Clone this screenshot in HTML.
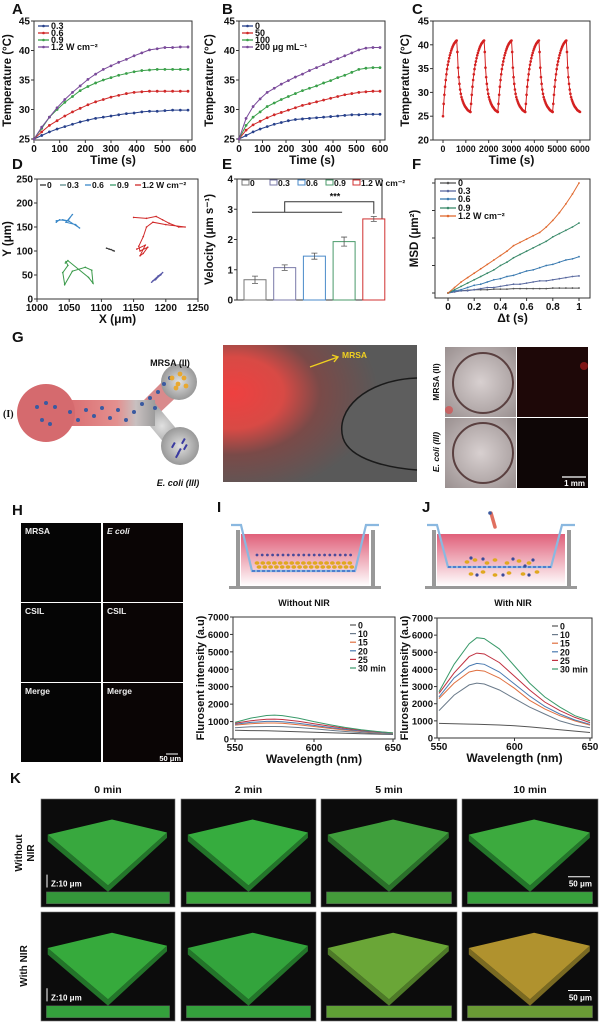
<!DOCTYPE html>
<html><head><meta charset="utf-8">
<style>
html,body{margin:0;padding:0;background:#fff;}
svg{display:block;font-family:"Liberation Sans",Arial,sans-serif;}
text{font-weight:bold;}
</style></head>
<body>
<svg id="fig" width="607" height="1026" viewBox="0 0 607 1026" xmlns="http://www.w3.org/2000/svg">
<defs>
<linearGradient id="chanGrad" x1="0" x2="1" y1="0" y2="0"><stop offset="0" stop-color="#d9686c"/><stop offset="0.6" stop-color="#e3908f"/><stop offset="0.8" stop-color="#c8c0c0"/><stop offset="1" stop-color="#9c9c9c"/></linearGradient>
<radialGradient id="armGrad" cx="0.5" cy="0.5" r="0.6"><stop offset="0" stop-color="#e0e0e0"/><stop offset="1" stop-color="#8a8a8a"/></radialGradient>
<radialGradient id="redGlow" cx="0.05" cy="0.35" r="0.75"><stop offset="0" stop-color="#ee4040"/><stop offset="0.35" stop-color="#d84a45"/><stop offset="0.6" stop-color="#7a4a48"/><stop offset="1" stop-color="#595959"/></radialGradient>
<linearGradient id="pinkLiq" x1="0" x2="0" y1="0" y2="1"><stop offset="0" stop-color="#e0607a"/><stop offset="1" stop-color="#fff"/></linearGradient>
<radialGradient id="ringBg" cx="0.5" cy="0.5" r="0.7"><stop offset="0" stop-color="#d8d0d0"/><stop offset="1" stop-color="#9a9090"/></radialGradient>
</defs>
<g id="root"></g>
</svg>
<script>
// ---------- data ----------
const timeA = [0,30,60,90,120,150,180,210,240,270,300,330,360,390,420,450,480,510,540,570,600];
const seriesA_03 = [25,25.6,26.2,26.7,27.1,27.5,27.9,28.2,28.5,28.7,28.9,29.1,29.3,29.4,29.6,29.7,29.7,29.8,29.9,29.9,29.9];
const seriesA_06 = [25,26.2,27.3,28.1,28.9,29.6,30.2,30.8,31.3,31.7,32.1,32.4,32.7,32.9,33.0,33.1,33.1,33.1,33.1,33.1,33.1];
const seriesA_09 = [25,26.8,28.7,30.0,31.2,32.2,33.2,33.9,34.5,35.0,35.4,35.8,36.1,36.4,36.6,36.7,36.8,36.8,36.8,36.8,36.8];
const seriesA_12 = [25,27.0,28.7,30.3,31.7,32.9,34.0,35.1,36.0,36.8,37.4,38.0,38.5,39.1,39.6,40.1,40.3,40.5,40.5,40.6,40.6];
const seriesB_0 = [25,25.6,26.2,26.7,27.1,27.5,27.8,28.1,28.3,28.4,28.5,28.6,28.7,28.8,28.9,29.0,29.1,29.1,29.2,29.2,29.2];
const seriesB_50 = [25,26.5,27.4,28.0,28.6,29.1,29.5,29.9,30.3,30.7,31.0,31.3,31.6,31.9,32.2,32.5,32.7,32.9,33.0,33.1,33.1];
const seriesB_100 = [25,27.3,28.7,29.6,30.5,31.1,31.7,32.2,32.7,33.2,33.6,34.0,34.5,34.9,35.4,35.8,36.3,36.8,37.0,37.1,37.1];
const seriesB_200 = [25,28.5,30.5,31.8,32.9,33.6,34.3,34.9,35.5,36.0,36.6,37.1,37.6,38.1,38.6,39.1,39.6,40.1,40.4,40.5,40.5];
const cycleStarts = [0,1200,2400,3600,4800];
const cycleHeat = [25.9,27.6,29.5,31.2,32.6,33.8,34.9,35.8,36.5,37.2,37.8,38.3,38.8,39.2,39.6,39.9,40.2,40.4,40.6,40.8,40.9];
const cycleCool = [38.5,35.2,33.2,31.8,30.6,29.7,29.0,28.5,28.1,27.7,27.4,27.1,26.9,26.7,26.5,26.3,26.2,26.1,26.0,25.9];
const firstStart = [25,27.6];
const trajX_0 = [1108,1112,1115,1118,1120];
const trajY_0 = [106,104,103,101,100];
const trajX_03 = [1178,1185,1192,1195,1188,1180,1184,1193];
const trajY_03 = [35,42,50,55,48,38,40,52];
const trajX_06 = [1030,1040,1048,1055,1045,1060,1066,1050,1035,1030];
const trajY_06 = [163,165,163,176,160,155,148,162,165,160];
const trajX_09 = [1045,1048,1040,1043,1055,1075,1085,1087,1080,1048,1044];
const trajY_09 = [78,70,55,30,58,66,60,33,45,80,75];
const trajX_12 = [1150,1170,1185,1195,1205,1220,1230,1200,1180,1170,1165,1158,1160,1172,1165,1160,1168,1155];
const trajY_12 = [170,168,172,165,158,150,150,155,160,150,130,110,100,108,95,90,112,104];
const velCats = ["0","0.3","0.6","0.9","1.2 W cm⁻²"];
const velValues = [0.67,1.07,1.45,1.93,2.68];
const velErrors = [0.12,0.09,0.1,0.15,0.08];
const dtValues = [0,0.05,0.1,0.15,0.2,0.25,0.3,0.35,0.4,0.45,0.5,0.55,0.6,0.65,0.7,0.75,0.8,0.85,0.9,0.95,1.0];
const msd_0 = [0,1,2,2.5,3,3,3,3.5,3.5,3.5,4,4,4,4,4,4,4.5,4.5,4.5,4.5,4.5];
const msd_03 = [0,1,2,2,3,4,5,5,6,7,8,8,9,10,11,11,12,13,14,15,15.5];
const msd_06 = [0,2,3,5,7,8,10,12,13,15,16,18,20,21,23,25,26,28,30,31,33];
const msd_09 = [0,3,6,9,12,15,18,21,25,28,32,35,38,41,44,47,51,54,57,60,63.6];
const msd_12 = [0,5,10,14,18,22,26,30,34,38,43,46,49,52,55,60,66,73,81,90,100];
const wavelengths = [550,560,570,575,580,590,600,610,620,630,640,650];
const specI_0 = [500,480,470,460,450,420,390,360,330,300,280,260];
const specI_10 = [650,700,720,720,710,660,590,500,430,370,320,280];
const specI_15 = [800,880,920,920,900,820,720,610,510,430,370,320];
const specI_20 = [850,950,1010,1010,990,900,780,660,550,460,390,330];
const specI_25 = [900,1050,1130,1140,1120,1020,880,740,610,500,420,350];
const specI_30 = [950,1200,1350,1370,1340,1200,1000,820,660,530,430,350];
const specJ_0 = [850,830,810,800,790,760,720,650,570,480,400,320];
const specJ_10 = [1600,2500,3100,3200,3150,2800,2300,1800,1400,1000,750,600];
const specJ_15 = [2300,3200,3850,3950,3900,3500,2900,2200,1700,1300,1000,750];
const specJ_20 = [2400,3500,4200,4350,4300,3850,3150,2450,1850,1400,1050,800];
const specJ_25 = [2600,3800,4750,4950,4900,4400,3600,2800,2100,1600,1200,900];
const specJ_30 = [2700,4300,5500,5850,5800,5200,4200,3200,2400,1800,1300,1000];
const specLabels = ["0","10","15","20","25","30 min"];

// ---------- helpers ----------
const NS = "http://www.w3.org/2000/svg";
const root = document.getElementById("root");
function nm(el, name){
  
  
}
function mk(tag, attrs, parent){
  const e = document.createElementNS(NS, tag);
  for (const k in attrs) e.setAttribute(k, attrs[k]);
  (parent || root).appendChild(e);
  return e;
}
function txt(x, y, s, size, opts, parent){
  const o = Object.assign({x:x, y:y, "font-size":size, fill:"#111"}, opts || {});
  const e = mk("text", o, parent);
  e.textContent = s;
  return e;
}
function lin(d0, d1, p0, p1){ return v => p0 + (v - d0) / (d1 - d0) * (p1 - p0); }
function axes(name, box, xs, ys, xticks, yticks, xlab, ylab, opts){
  opts = opts || {};
  const g = mk("g", {});
  nm(g, name + "-axes");
  const frame = mk("rect", {x:box.l, y:box.t, width:box.r-box.l, height:box.b-box.t, fill:"none", stroke:"#333", "stroke-width":1}, g);
  nm(frame, name + "-frame");
  xticks.forEach(v => {
    const x = xs(v);
    const t = mk("line", {x1:x, x2:x, y1:box.b, y2:box.b+3, stroke:"#333"}, g);
    nm(t, name + "-x-tick");
    const l = txt(x, box.b + 12, String(v), opts.xfs || 10, {"text-anchor":"middle"}, g);
    nm(l, name + "-x-tick-label");
  });
  yticks.forEach(v => {
    const y = ys(v);
    const t = mk("line", {x1:box.l-3, x2:box.l, y1:y, y2:y, stroke:"#333"}, g);
    nm(t, name + "-y-tick");
    if (!opts.noYLabels){
      const l = txt(box.l - 4, y + 3.5, String(v), opts.yfs || 10, {"text-anchor":"end"}, g);
      nm(l, name + "-y-tick-label");
    }
  });
  const xl = txt((box.l + box.r) / 2, box.b + 24, xlab, 12, {"text-anchor":"middle"}, g);
  nm(xl, name + "-x-axis-title");
  const yx = opts.ylx || (box.l - 22);
  const yl = txt(0, 0, ylab, opts.ytfs || 11.5, {"text-anchor":"middle", transform:"translate(" + yx + "," + ((box.t + box.b) / 2) + ") rotate(-90)"}, g);
  nm(yl, name + "-y-axis-title");
  return g;
}
function series(name, xsArr, ysArr, xs, ys, color, marker, width){
  const g = mk("g", {});
  nm(g, name);
  const pts = xsArr.map((v, i) => xs(v).toFixed(1) + "," + ys(ysArr[i]).toFixed(1)).join(" ");
  const pl = mk("polyline", {points:pts, fill:"none", stroke:color, "stroke-width":width || 1}, g);
  nm(pl, name + "-line");
  if (marker){
    xsArr.forEach((v, i) => {
      const c = mk("circle", {cx:xs(v), cy:ys(ysArr[i]), r:marker, fill:color}, g);
      nm(c, name + "-point");
    });
  }
  return g;
}
function panelLabel(s, x, y){
  const e = txt(x, y, s, 15, {});
  nm(e, "panel-label-" + s.toLowerCase());
}
function legendLine(name, x, y, label, color, fs, len){
  const l = mk("line", {x1:x, x2:x + (len || 11), y1:y, y2:y, stroke:color, "stroke-width":1.3});
  nm(l, name + "-swatch");
  const c = mk("circle", {cx:x + (len || 11)/2, cy:y, r:1.3, fill:color});
  nm(c, name + "-swatch-marker");
  const t = txt(x + (len || 11) + 2, y + 3.2, label, fs || 9, {});
  nm(t, name + "-label");
}

// ---------- Panel A ----------
panelLabel("A", 12, 14);
{
  const box = {l:34, t:21, r:192, b:140};
  const xs = lin(0, 600, 34, 188), ys = lin(25, 45, 139, 21);
  axes("chart-a", box, xs, ys, [0,100,200,300,400,500,600], [25,30,35,40,45], "Time (s)", "Temperature (°C)", {ylx:11});
  series("series-a-0.3", timeA, seriesA_03, xs, ys, "#27408b", 1.4);
  series("series-a-0.6", timeA, seriesA_06, xs, ys, "#d02828", 1.4);
  series("series-a-0.9", timeA, seriesA_09, xs, ys, "#3aa04a", 1.4);
  series("series-a-1.2", timeA, seriesA_12, xs, ys, "#7a4a9a", 1.4);
  legendLine("legend-a-0.3", 38, 26, "0.3", "#27408b");
  legendLine("legend-a-0.6", 38, 33, "0.6", "#d02828");
  legendLine("legend-a-0.9", 38, 40, "0.9", "#3aa04a");
  legendLine("legend-a-1.2", 38, 47, "1.2 W cm⁻²", "#7a4a9a");
}
// ---------- Panel B ----------
panelLabel("B", 222, 14);
{
  const box = {l:239, t:21, r:385, b:140};
  const xs = lin(0, 600, 239, 380), ys = lin(25, 45, 139, 21);
  axes("chart-b", box, xs, ys, [0,100,200,300,400,500,600], [25,30,35,40,45], "Time (s)", "Temperature (°C)", {ylx:213});
  series("series-b-0", timeA, seriesB_0, xs, ys, "#27408b", 1.4);
  series("series-b-50", timeA, seriesB_50, xs, ys, "#d02828", 1.4);
  series("series-b-100", timeA, seriesB_100, xs, ys, "#3aa04a", 1.4);
  series("series-b-200", timeA, seriesB_200, xs, ys, "#7a4a9a", 1.4);
  legendLine("legend-b-0", 242, 26, "0", "#27408b");
  legendLine("legend-b-50", 242, 33, "50", "#d02828");
  legendLine("legend-b-100", 242, 40, "100", "#3aa04a");
  legendLine("legend-b-200", 242, 47, "200 μg mL⁻¹", "#7a4a9a");
}
// ---------- Panel C ----------
panelLabel("C", 412, 14);
{
  const box = {l:433, t:21, r:590, b:140};
  const xs = lin(0, 6000, 443, 580), ys = lin(20, 45, 140, 21);
  axes("chart-c", box, xs, ys, [0,1000,2000,3000,4000,5000,6000], [20,25,30,35,40,45], "Time (s)", "Temperature (°C)", {ylx:409, xfs:8.8});
  cycleStarts.forEach((s, ci) => {
    const tx = [], ty = [];
    cycleHeat.forEach((v, i) => { tx.push(s + i * 30); ty.push(ci === 0 && i < 2 ? firstStart[i] : v); });
    cycleCool.forEach((v, i) => { tx.push(s + 630 + i * 30); ty.push(v); });
    series("series-c-cycle-" + (ci + 1), tx, ty, xs, ys, "#d42020", 1.3);
  });
}
// ---------- Panel D ----------
panelLabel("D", 12, 169);
{
  const box = {l:37, t:179, r:198, b:299};
  const xs = lin(1000, 1250, 37, 198), ys = lin(0, 250, 299, 179);
  axes("chart-d", box, xs, ys, [1000,1050,1100,1150,1200,1250], [0,50,100,150,200,250], "X  (μm)", "Y  (μm)", {ylx:11});
  series("track-0", trajX_0, trajY_0, xs, ys, "#333", 0.8);
  series("track-0.3", trajX_03, trajY_03, xs, ys, "#5a5aa8", 0.8);
  series("track-0.6", trajX_06, trajY_06, xs, ys, "#3a88c8", 0.8);
  series("track-0.9", trajX_09, trajY_09, xs, ys, "#3a9a4a", 0.8);
  series("track-1.2", trajX_12, trajY_12, xs, ys, "#d02828", 0.8);
  const lg = [["0","#333",40],["0.3","#5a8a8a",60],["0.6","#3a88c8",85],["0.9","#3a9a6a",110],["1.2 W cm⁻²","#d02828",135]];
  lg.forEach(e => {
    const l = mk("line", {x1:e[2], x2:e[2]+6, y1:185, y2:185, stroke:e[1], "stroke-width":1.3});
    nm(l, "legend-d-swatch");
    const t = txt(e[2]+7, 188, e[0], 8.5, {});
    nm(t, "legend-d-label");
  });
}
// ---------- Panel E ----------
panelLabel("E", 222, 169);
{
  const box = {l:237, t:179, r:382, b:300};
  const ys = lin(0, 4, 300, 179);
  const cx = i => 255 + i * 29.7;
  axes("chart-e", box, v => 0, ys, [], [0,1,2,3,4], "", "Velocity  (μm s⁻¹)", {ylx:213});
  const cols = ["#777","#7a7aa8","#4a8ac8","#4a9a6a","#d03030"];
  velValues.forEach((v, i) => {
    const r = mk("rect", {x:cx(i)-11, y:ys(v), width:22, height:ys(0)-ys(v), fill:"#fff", stroke:cols[i], "stroke-width":1});
    nm(r, "bar-" + velCats[i].split(" ")[0]);
    const e = mk("path", {d:"M"+cx(i)+","+ys(v+velErrors[i])+"V"+ys(v-velErrors[i])+"M"+(cx(i)-3)+","+ys(v+velErrors[i])+"h6M"+(cx(i)-3)+","+ys(v-velErrors[i])+"h6", stroke:"#555", "stroke-width":0.8, fill:"none"});
    nm(e, "error-bar-" + velCats[i].split(" ")[0]);
  });
  const br = mk("path", {d:"M"+(cx(0)-3)+","+ys(2.9)+"H"+(cx(3)-2)+"M"+(cx(1))+","+ys(2.9)+"V"+ys(3.25)+"H"+cx(4)+"V"+ys(2.85), fill:"none", stroke:"#333", "stroke-width":1});
  nm(br, "significance-bracket");
  const st = txt(335, ys(3.33), "***", 9, {"text-anchor":"middle"});
  nm(st, "significance-stars");
  const lx = [242,270,298,326,353];
  velCats.forEach((c, i) => {
    const r = mk("rect", {x:lx[i], y:180, width:7, height:5, fill:"#fff", stroke:cols[i]});
    nm(r, "legend-e-swatch");
    const t = txt(lx[i]+8, 186, c, 8.5, {});
    nm(t, "legend-e-label");
  });
}
// ---------- Panel F ----------
panelLabel("F", 412, 169);
{
  const box = {l:435, t:179, r:590, b:298};
  const xs = lin(0, 1, 448, 579), ys = lin(0, 100, 293, 183);
  axes("chart-f", box, xs, ys, [0,0.2,0.4,0.6,0.8,"1.0"].map(Number), [0,25,50,75,100], "Δt (s)", "MSD  (μm²)", {noYLabels:true, ylx:418});
  series("msd-0", dtValues, msd_0, xs, ys, "#555", 0.9);
  series("msd-0.3", dtValues, msd_03, xs, ys, "#5a6aa0", 0.9);
  series("msd-0.6", dtValues, msd_06, xs, ys, "#3a7ab0", 0.9);
  series("msd-0.9", dtValues, msd_09, xs, ys, "#3a8a6a", 0.9);
  series("msd-1.2", dtValues, msd_12, xs, ys, "#e06a30", 0.9);
  legendLine("legend-f-0", 440, 183, "0", "#555", 9, 16);
  legendLine("legend-f-0.3", 440, 191, "0.3", "#5a6aa0", 9, 16);
  legendLine("legend-f-0.6", 440, 199, "0.6", "#3a7ab0", 9, 16);
  legendLine("legend-f-0.9", 440, 208, "0.9", "#3a8a6a", 9, 16);
  legendLine("legend-f-1.2", 440, 216, "1.2 W cm⁻²", "#e06a30", 9, 16);
}
// ---------- Panel G ----------
panelLabel("G", 12, 342);
{
  const g = mk("g", {}); nm(g, "microfluidic-schematic");
  const a1 = mk("path", {d:"M138,406 L172,372 L186,388 L152,420 Z", fill:"#d98a8c"}, g); nm(a1, "channel-arm-upper");
  const a2 = mk("path", {d:"M140,414 L170,450 L184,438 L154,402 Z", fill:"url(#armGrad)"}, g); nm(a2, "channel-arm-lower");
  const c1 = mk("circle", {cx:179, cy:382, r:18, fill:"url(#armGrad)"}, g); nm(c1, "mrsa-chamber");
  const c2 = mk("circle", {cx:180, cy:446, r:19, fill:"url(#armGrad)"}, g); nm(c2, "ecoli-chamber");
  const bar = mk("rect", {x:60, y:400, width:95, height:26, fill:"url(#chanGrad)"}, g); nm(bar, "channel-main");
  const c0 = mk("circle", {cx:46, cy:413, r:29, fill:"#d56a6e"}, g); nm(c0, "inlet-chamber");
  [[37,407],[46,403],[55,407],[42,420],[50,424],[70,412],[78,420],[86,410],[94,416],[102,408],[110,418],[118,410],[126,420],[134,412],[142,404],[150,398],[158,392],[164,384],[170,378],[155,408]].forEach(p => {
    const d = mk("circle", {cx:p[0], cy:p[1], r:2, fill:"#3a5aa0"}, g); nm(d, "nanoparticle");
  });
  [[172,378],[178,384],[184,378],[176,388],[186,386],[180,374]].forEach(p => {
    const d = mk("circle", {cx:p[0], cy:p[1], r:2.4, fill:"#e8a830"}, g); nm(d, "mrsa-cell");
  });
  [[174,442],[180,448],[186,444],[178,452],[184,438]].forEach(p => {
    const d = mk("rect", {x:p[0], y:p[1], width:2, height:6, fill:"#3a3aa0", transform:"rotate(30 "+p[0]+" "+p[1]+")"}, g); nm(d, "ecoli-cell");
  });
  const t1 = txt(170, 366, "MRSA (II)", 9, {"text-anchor":"middle"}); nm(t1, "mrsa-label");
  const t2 = txt(178, 486, "E. coli (III)", 9, {"text-anchor":"middle", "font-style":"italic"}); nm(t2, "ecoli-label");
  const t3 = txt(3, 417, "(I)", 10, {"font-weight":"normal", "font-family":"Liberation Serif, serif"}); nm(t3, "inlet-label");

  const im = mk("rect", {x:223, y:345, width:194, height:137, fill:"url(#redGlow)"}); nm(im, "microscope-image");
  const cv = mk("path", {d:"M417,378 C365,380 335,410 343,438 C350,460 390,468 417,470", fill:"#5e5e5e", stroke:"#1a1a1a", "stroke-width":1.5}); nm(cv, "channel-edge");
  const ar = mk("path", {d:"M310,367 L338,357 M332,355 L338,357 L334,362", stroke:"#f0d020", "stroke-width":1.4, fill:"none"}); nm(ar, "mrsa-arrow");
  const at = txt(342, 358, "MRSA", 8.5, {fill:"#f0d020"}); nm(at, "mrsa-arrow-label");

  const r1 = mk("rect", {x:445, y:347, width:71, height:70, fill:"url(#ringBg)"}); nm(r1, "mrsa-brightfield");
  const r2 = mk("rect", {x:517, y:347, width:71, height:70, fill:"#1e0808"}); nm(r2, "mrsa-fluorescence");
  const r3 = mk("rect", {x:445, y:418, width:71, height:70, fill:"url(#ringBg)"}); nm(r3, "ecoli-brightfield");
  const r4 = mk("rect", {x:517, y:418, width:71, height:70, fill:"#0e0606"}); nm(r4, "ecoli-fluorescence");
  const g1 = mk("circle", {cx:584, cy:366, r:4, fill:"#c02020", opacity:0.6}); nm(g1, "fluorescence-spot");
  const g2 = mk("circle", {cx:449, cy:410, r:4, fill:"#e04040", opacity:0.6}); nm(g2, "fluorescence-spot");
  const ring1 = mk("circle", {cx:483, cy:383, r:30, fill:"none", stroke:"#5a4040", "stroke-width":2}); nm(ring1, "well-ring");
  const ring2 = mk("circle", {cx:483, cy:453, r:30, fill:"none", stroke:"#5a4040", "stroke-width":2}); nm(ring2, "well-ring");
  const lb1 = txt(0, 0, "MRSA (II)", 8.5, {"text-anchor":"middle", transform:"translate(439,382) rotate(-90)"}); nm(lb1, "row-label-mrsa");
  const lb2 = txt(0, 0, "E. coli (III)", 8.5, {"text-anchor":"middle", "font-style":"italic", transform:"translate(439,452) rotate(-90)"}); nm(lb2, "row-label-ecoli");
  const sb = mk("line", {x1:562, x2:586, y1:477, y2:477, stroke:"#fff", "stroke-width":1.2}); nm(sb, "scale-bar");
  const sbt = txt(585, 486, "1 mm", 8, {"text-anchor":"end", fill:"#fff"}); nm(sbt, "scale-bar-label");
}
// ---------- Panel H ----------
panelLabel("H", 12, 515);
{
  const labs = [["MRSA","E coli"],["CSIL","CSIL"],["Merge","Merge"]];
  for (let r = 0; r < 3; r++) for (let c = 0; c < 2; c++){
    const x = c ? 103 : 21, y = 523 + r * 80;
    const t = mk("rect", {x:x, y:y, width:80, height:79, fill: c ? "#0a0505" : "#050505"}); nm(t, "confocal-tile");
    const l = txt(x + 4, y + 11, labs[r][c], 8.5, {fill:"#eee", "font-style": (r===0&&c===1) ? "italic" : "normal"}); nm(l, "tile-label");
  }
  const sb = mk("line", {x1:166, x2:178, y1:754, y2:754, stroke:"#fff", "stroke-width":1}); nm(sb, "scale-bar");
  const st = txt(181, 761, "50 μm", 7.5, {"text-anchor":"end", fill:"#fff"}); nm(st, "scale-bar-label");
}
// ---------- Panels I & J schematics ----------
panelLabel("I", 217, 512);
panelLabel("J", 422, 512);
function transwell(name, x0, nir){
  const g = mk("g", {}); nm(g, name);
  const liq = mk("rect", {x:x0+12, y:534, width:128, height:52, fill:"url(#pinkLiq)"}, g); nm(liq, name + "-medium");
  const p1 = mk("rect", {x:x0+7, y:530, width:4, height:58, fill:"#999"}, g); nm(p1, name + "-post");
  const p2 = mk("rect", {x:x0+142, y:530, width:4, height:58, fill:"#999"}, g); nm(p2, name + "-post");
  const base = mk("rect", {x:x0, y:586, width:152, height:3, fill:"#999"}, g); nm(base, name + "-base");
  const bot = nir ? 567 : 571;
  const ins = mk("path", {d:"M"+(x0+2)+",525 H"+(x0+12)+" L"+(x0+23)+","+bot+" H"+(x0+126)+" L"+(x0+137)+",525 H"+(x0+150), fill:"none", stroke:"#8ab8e0", "stroke-width":2.2}, g); nm(ins, name + "-insert");
  const mem = mk("line", {x1:x0+23, x2:x0+126, y1:bot, y2:bot, stroke:"#3a6ac8", "stroke-width":1.5, "stroke-dasharray":"3,2"}, g); nm(mem, name + "-membrane");
  if (!nir){
    for (let i = 0; i < 19; i++){ const d = mk("circle", {cx:x0+28+i*5.2, cy:555, r:1.4, fill:"#4a4a9a"}, g); nm(d, "nanoparticle"); }
    for (let i = 0; i < 17; i++){ const d = mk("ellipse", {cx:x0+28+i*5.8, cy:563, rx:2.4, ry:1.8, fill:"#e0a820"}, g); nm(d, "bacterium"); }
    for (let i = 0; i < 17; i++){ const d = mk("ellipse", {cx:x0+30+i*5.8, cy:567, rx:2.4, ry:1.8, fill:"#e0a820"}, g); nm(d, "bacterium"); }
  } else {
    [[42,562],[50,560],[62,563],[70,560],[82,563],[94,561],[104,563],[46,574],[58,572],[70,575],[84,573],[98,574],[112,572]].forEach(p => {
      const d = mk("ellipse", {cx:x0+p[0], cy:p[1], rx:2.4, ry:1.8, fill:"#e0a820"}, g); nm(d, "bacterium");
    });
    [[46,558],[58,559],[88,559],[100,566],[108,560],[52,575],[78,575],[104,575]].forEach(p => {
      const d = mk("circle", {cx:x0+p[0], cy:p[1], r:1.6, fill:"#3a4a9a"}, g); nm(d, "nanoparticle");
    });
    const lz = mk("line", {x1:x0+66, y1:513, x2:x0+70, y2:527, stroke:"#e07060", "stroke-width":3.5, "stroke-linecap":"round"}, g); nm(lz, "nir-laser");
    const lz2 = mk("circle", {cx:x0+65, cy:513, r:1.8, fill:"#3a5aa0"}, g); nm(lz2, "nir-laser-tip");
  }
}
transwell("transwell-without-nir", 229, false);
transwell("transwell-with-nir", 425, true);
{ const t = txt(304, 606, "Without NIR", 9, {"text-anchor":"middle"}); nm(t, "caption-without-nir"); }
{ const t = txt(513, 606, "With NIR", 9, {"text-anchor":"middle"}); nm(t, "caption-with-nir"); }
// ---------- Spectra ----------
const specColors = ["#555","#6a7a8a","#e07040","#4a7ab0","#c03040","#3a9a6a"];
function spectra(name, box, xr, sets, lgx){
  const xs = lin(550, 650, xr[0], xr[1]), ys = lin(0, 7000, box.b, box.t);
  axes(name, box, xs, ys, [550,600,650], [0,1000,2000,3000,4000,5000,6000,7000], "Wavelength (nm)", "Flurosent intensity (a.u)", {ylx:box.l-29, yfs:9.5, ytfs:11});
  sets.forEach((s, i) => {
    series(name + "-" + specLabels[i].split(" ")[0] + "-min", wavelengths, s, xs, ys, specColors[i], 0, 1);
    const l = mk("line", {x1:lgx, x2:lgx+6, y1:box.t+8+i*8.6, y2:box.t+8+i*8.6, stroke:specColors[i], "stroke-width":1.2});
    nm(l, name + "-legend-swatch");
    const t = txt(lgx+8, box.t+11.5+i*8.6, specLabels[i], 8.8, {});
    nm(t, name + "-legend-label");
  });
}
spectra("chart-i", {l:233, t:617, r:395, b:739}, [235, 393], [specI_0, specI_10, specI_15, specI_20, specI_25, specI_30], 350);
spectra("chart-j", {l:437, t:618, r:592, b:738}, [439, 590], [specJ_0, specJ_10, specJ_15, specJ_20, specJ_25, specJ_30], 552);
// ---------- Panel K ----------
panelLabel("K", 10, 783);
{
  const colsX = [41,181,321,462], colW = [134,135,136,136];
  const heads = ["0 min","2 min","5 min","10 min"];
  heads.forEach((h, i) => { const t = txt(colsX[i] + colW[i]/2, 793, h, 10.5, {"text-anchor":"middle"}); nm(t, "time-header"); });
  const rowsY = [799, 912], rowH = [108, 109];
  const r1 = txt(0, 0, "Without", 10, {"text-anchor":"middle", transform:"translate(22,853) rotate(-90)"}); nm(r1, "row-label-without-nir");
  const r1b = txt(0, 0, "NIR", 10, {"text-anchor":"middle", transform:"translate(34,853) rotate(-90)"}); nm(r1b, "row-label-without-nir");
  const r2 = txt(0, 0, "With NIR", 10, {"text-anchor":"middle", transform:"translate(27,966) rotate(-90)"}); nm(r2, "row-label-with-nir");
  const topCol = [["#38a83e","#36ac3e","#3f9f3c","#3caa3e"],["#36aa3c","#33a43c","#6aa637","#b0922e"]];
  const sideCol = [["#23752a","#23752a","#2a702a","#23752a"],["#23752a","#23752a","#4e7a28","#7a6a22"]];
  const barCol = [["#34963a","#3ca43c","#449a3a","#38a03c"],["#34a03c","#34a03c","#60a035","#6a9a35"]];
  for (let r = 0; r < 2; r++) for (let c = 0; c < 4; c++){
    const x = colsX[c], y = rowsY[r], W = colW[c], H = rowH[r];
    const bg = mk("rect", {x:x, y:y, width:W, height:H, fill:"#0c0c0c", stroke:"#777", "stroke-width":0.6}); nm(bg, "biofilm-tile");
    const P = (fx, fy) => (x + fx*W).toFixed(1) + "," + (y + fy*H).toFixed(1);
    const side = mk("polygon", {points:[P(.05,.33),P(.5,.8),P(.94,.31),P(.94,.36),P(.5,.86),P(.05,.39)].join(" "), fill:sideCol[r][c]}); nm(side, "biofilm-side");
    const top = mk("polygon", {points:[P(.05,.33),P(.53,.19),P(.94,.31),P(.5,.8)].join(" "), fill:topCol[r][c]}); nm(top, "biofilm-surface");
    const bar = mk("rect", {x:x+0.04*W, y:y+0.86*H, width:0.92*W, height:0.11*H, fill:barCol[r][c], stroke:"#555", "stroke-width":0.5}); nm(bar, "biofilm-cross-section");
    if (c === 0){
      const a = mk("line", {x1:x+6, x2:x+6, y1:y+0.82*H, y2:y+0.7*H, stroke:"#fff", "stroke-width":1}); nm(a, "z-arrow");
      const zt = txt(x+10, y+0.81*H, "Z:10 μm", 8, {fill:"#fff"}); nm(zt, "z-label");
    }
    if (c === 3){
      const sb = mk("line", {x1:x+W-30, x2:x+W-8, y1:y+0.72*H, y2:y+0.72*H, stroke:"#fff", "stroke-width":1}); nm(sb, "scale-bar");
      const st = txt(x+W-6, y+0.81*H, "50 μm", 8, {"text-anchor":"end", fill:"#fff"}); nm(st, "scale-bar-label");
    }
  }
}
</script>
</body></html>
